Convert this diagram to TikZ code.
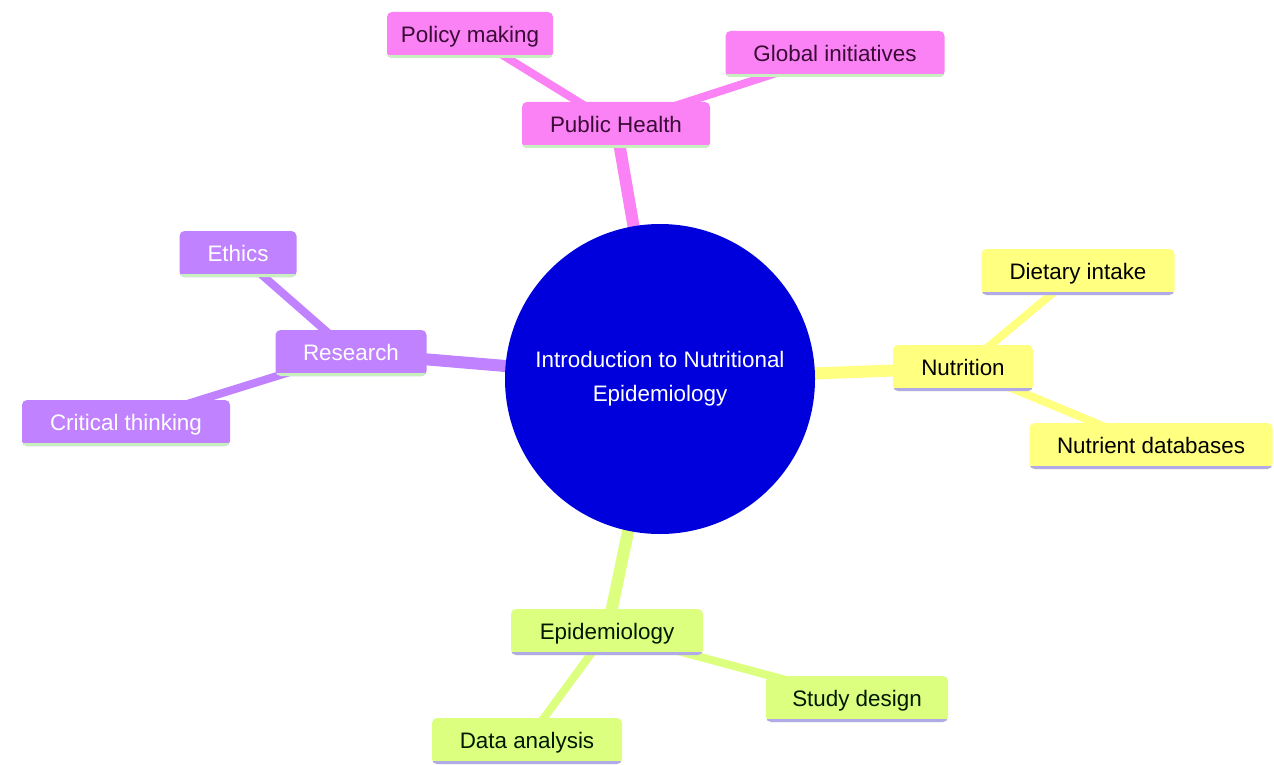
\documentclass[tikz,border=0pt]{standalone}
\usepackage{fontspec}
\setmainfont{Liberation Sans}
\usetikzlibrary{backgrounds}
\definecolor{rootblue}{RGB}{0,0,221}
\definecolor{phpink}{RGB}{250,130,245}
\definecolor{phtext}{RGB}{60,10,55}
\definecolor{respurple}{RGB}{192,130,255}
\definecolor{nutyellow}{RGB}{255,255,128}
\definecolor{epigreen}{RGB}{220,255,128}
\definecolor{lightgreen}{RGB}{200,240,190}
\definecolor{lavender}{RGB}{178,170,232}

\begin{document}
\begin{tikzpicture}[x=1pt,y=-1pt,
    every node/.style={font=\fontsize{22.4}{34}\selectfont},
    uline/.style={path picture={\draw[line width=6pt,#1] (path picture bounding box.south west)--(path picture bounding box.south east);}},
    box/.style={rectangle,rounded corners=5pt,minimum height=46pt,inner xsep=12pt,text depth=1pt},
    pinkbox/.style={box,fill=phpink,text=phtext,uline=lightgreen},
    purplebox/.style={box,fill=respurple,text=white,uline=lightgreen},
    yellowbox/.style={box,fill=nutyellow,text=black,uline=lavender},
    greenbox/.style={box,fill=epigreen,text=black!90!green,uline=lavender},
    limb/.style={line width=12pt},
    twig/.style={line width=8pt}]
    \useasboundingbox (0,0) rectangle (1274,765);
    % centre
    \node[circle,fill=rootblue,text=white,minimum size=310pt,align=center] (root) at (660,379) {Introduction to Nutritional\\Epidemiology};
    % public health
    \node[pinkbox,minimum width=188pt] (ph) at (616,125) {Public Health};
    \node[pinkbox,minimum width=166pt] (policy) at (470,35) {Policy making};
    \node[pinkbox,minimum width=219pt] (global) at (835,54) {Global initiatives};
    % research
    \node[purplebox,minimum width=151pt] (research) at (351,353) {Research};
    \node[purplebox,minimum width=117pt] (ethics) at (238,254) {Ethics};
    \node[purplebox,minimum width=208pt] (critical) at (126,423) {Critical thinking};
    % nutrition
    \node[yellowbox,minimum width=140pt] (nutrition) at (963,368) {Nutrition};
    \node[yellowbox,minimum width=193pt] (dietary) at (1078,272) {Dietary intake};
    \node[yellowbox,minimum width=243pt] (nutrient) at (1151,446) {Nutrient databases};
    % epidemiology
    \node[greenbox,minimum width=192pt] (epi) at (607,632) {Epidemiology};
    \node[greenbox,minimum width=182pt] (study) at (857,699) {Study design};
    \node[greenbox,minimum width=190pt] (data) at (527,741) {Data analysis};
    \begin{scope}[on background layer]
        \fill[white] (0,0) rectangle (1274,765);
        \draw[limb,phpink] (root.center)--(ph.center);
        \draw[twig,phpink] (ph.center)--(policy.center);
        \draw[twig,phpink] (ph.center)--(global.center);
        \draw[limb,respurple] (root.center)--(research.center);
        \draw[twig,respurple] (research.center)--(ethics.center);
        \draw[twig,respurple] (research.center)--(critical.center);
        \draw[limb,nutyellow] (root.center)--(nutrition.center);
        \draw[twig,nutyellow] (nutrition.center)--(dietary.center);
        \draw[twig,nutyellow] (nutrition.center)--(nutrient.center);
        \draw[limb,epigreen] (root.center)--(epi.center);
        \draw[twig,epigreen] (epi.center)--(study.center);
        \draw[twig,epigreen] (epi.center)--(data.center);
    \end{scope}
\end{tikzpicture}
\end{document}
